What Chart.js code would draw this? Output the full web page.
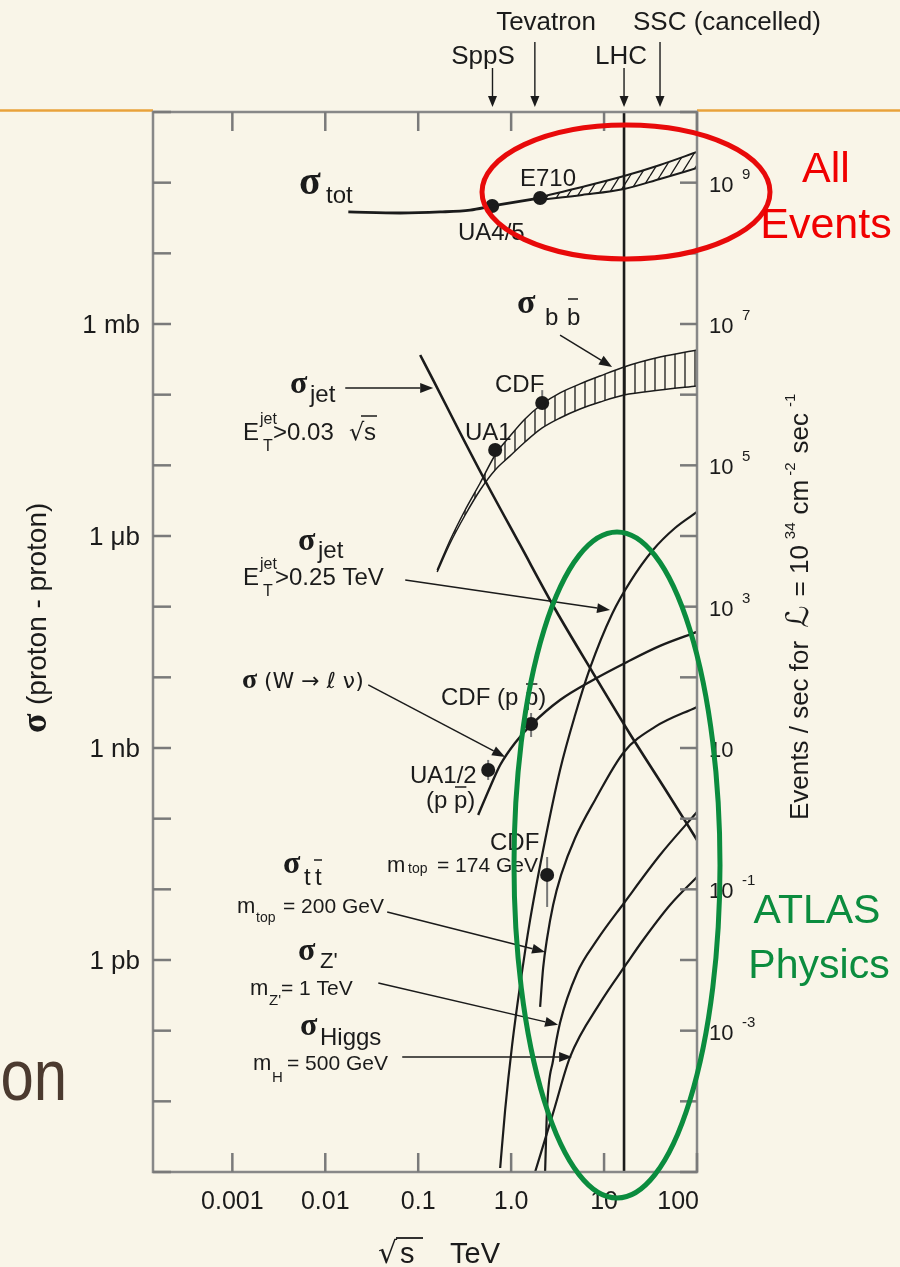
<!DOCTYPE html>
<html>
<head>
<meta charset="utf-8">
<script src="https://cdn.jsdelivr.net/npm/chart.js@4.4.1/dist/chart.umd.min.js"></script>
<style>
  html, body { margin: 0; padding: 0; background: #f9f5e8; }
  #wrap { width: 900px; height: 1267px; position: relative; }
</style>
</head>
<body>
<div id="wrap"><canvas id="c"></canvas></div>
<script>
// ---------------- data: sqrt(s) in TeV, cross sections in nb ----------------
const sqrtS_tot      = [0.0177, 0.064, 0.1725, 0.362, 0.625, 1.10, 2.05];
const sigma_tot      = [3.85e7, 3.72e7, 3.85e7, 4.10e7, 4.68e7, 5.32e7, 6.07e7];
const sqrtS_totBand  = [2.05, 5.80, 16.4, 40.0, 100];
const sigma_totHigh  = [6.27e7, 8.69e7, 1.24e8, 1.78e8, 2.72e8];
const sigma_totLow   = [5.69e7, 6.70e7, 8.13e7, 1.13e8, 1.61e8];

const sqrtS_bb       = [0.160, 0.221, 0.320, 0.464, 0.673, 0.975, 1.41, 2.16, 3.36, 5.52, 9.06, 16.4, 40.0, 100];
const sigma_bbHigh   = [330, 879, 2335, 5623, 1.40e4, 2.60e4, 4.53e4, 7.38e4, 1.06e5, 1.42e5, 1.84e5, 2.47e5, 3.41e5, 4.29e5];
const sigma_bbLow    = [310, 796, 1982, 4477, 8590, 1.36e4, 2.14e4, 3.38e4, 4.68e4, 6.27e4, 7.87e4, 9.89e4, 1.16e5, 1.33e5];

const sqrtS_jet03    = [0.105, 0.145, 0.269, 0.500, 1.25, 2.97, 7.62, 19.0, 45.3, 100];
const sigma_jet03    = [3.64e5, 1.61e5, 3.27e4, 6839, 746, 92.7, 11.5, 1.58, 0.263, 0.050];

const sqrtS_jet25    = [0.762, 0.862, 1.025, 1.25, 1.60, 2.21, 3.36, 4.88, 7.07, 12.2, 19.0, 33.6, 58.0, 100];
const sigma_jet25    = [1.14e-6, 7.55e-6, 6.28e-5, 4.44e-4, 3.69e-3, 0.0361, 0.489, 2.93, 13.6, 78.9, 223, 634, 1297, 2188];

const sqrtS_W        = [0.442, 0.594, 0.762, 1.10, 1.64, 3.36, 7.62, 17.7, 40.0, 100];
const sigma_W        = [0.113, 0.281, 0.575, 1.18, 2.12, 4.78, 9.18, 16.5, 27.8, 43.9];

const sqrtS_tt       = [2.05, 2.21, 2.44, 2.83, 3.45, 4.88, 8.00, 16.4, 35.3, 100];
const sigma_tt       = [2.17e-4, 7.71e-4, 2.05e-3, 6.01e-3, 0.0160, 0.0533, 0.184, 0.879, 1.99, 3.81];

const sqrtS_Zp       = [2.32, 2.44, 2.83, 3.36, 5.12, 8.41, 16.4, 40.0, 100];
const sigma_Zp       = [1.0e-6, 8.32e-6, 3.85e-5, 1.29e-4, 6.56e-4, 1.92e-3, 6.41e-3, 0.0306, 0.124];

const sqrtS_H        = [1.81, 2.83, 4.31, 9.06, 17.7, 26.3, 51.3, 100];
const sigma_H        = [1.0e-6, 6.85e-6, 4.25e-5, 2.47e-4, 9.08e-4, 1.92e-3, 6.01e-3, 0.0150];

// measurements: UA4/5, E710, UA1, CDF (bb), CDF (W), UA1/2 (W), CDF (tt)
const measSqrtS      = [0.625, 2.05, 0.673, 2.16, 1.64, 0.566, 2.44];
const measSigma      = [4.68e7, 6.07e7, 1.65e4, 7.63e4, 2.19, 0.489, 0.0160];
const measErrLo      = [null, null, null, 6.8e4, 1.43, 0.353, 5.63e-3];
const measErrHi      = [null, null, null, 1.16e5, 3.13, 0.678, 0.0287];

// colliders marked along the top
const machineNames    = ['SppS', 'Tevatron', 'LHC', 'SSC (cancelled)'];
const machineEnergies = [0.63, 1.8, 16.4, 40];
const lhcEnergy       = 16.4;

// axis ticks and labels
const xTickValues  = [0.001, 0.01, 0.1, 1, 10, 100];
const xTickLabels  = ['0.001', '0.01', '0.1', '1.0', '10', '100'];
const yLabelValues = [1e6, 1e3, 1, 1e-3];
const yLabelTexts  = ['1 mb', '1 \u03bcb', '1 nb', '1 pb'];
const rateValues   = [1e9, 1e7, 1e5, 1e3, 10, 0.1, 1e-3];
const rateExps     = ['9', '7', '5', '3', '', '-1', '-3'];

// label pointers: [from sqrt(s), from sigma, to sqrt(s), to sigma]
const pointerBB    = [3.36, 6.98e5, 12.2, 2.47e5];
const pointerJet03 = [0.0164, 1.24e5, 0.145, 1.24e5];
const pointerJet25 = [0.0725, 239, 11.6, 89.8];
const pointerW     = [0.0290, 7.80, 0.862, 0.746];
const pointerTT    = [0.0464, 4.79e-3, 2.32, 1.30e-3];
const pointerZp    = [0.0372, 4.73e-4, 3.20, 1.21e-4];
const pointerH     = [0.0673, 4.25e-5, 4.53, 4.25e-5];

// ---------------- drawing helpers ----------------
const SANS  = '"Liberation Sans", Arial, Helvetica, sans-serif';
const SERIF = '"Liberation Serif", "Times New Roman", serif';
const INK   = '#1b1b1b';
const BG    = '#f9f5e8';

const pts = (xs, ys) => xs.map((x, i) => ({ x, y: ys[i] }));

const mainCtx = document.getElementById('c').getContext('2d');
function makeHatch(w, h, drawFn) {
  const c = document.createElement('canvas');
  c.width = w; c.height = h;
  const g = c.getContext('2d');
  g.strokeStyle = '#1a1a1a';
  g.lineWidth = 1.3;
  drawFn(g, w, h);
  return mainCtx.createPattern(c, 'repeat');
}
const diagHatch = makeHatch(10, 16, (g, w, h) => {
  g.beginPath();
  for (const o of [-w, 0, w]) { g.moveTo(o, h); g.lineTo(o + w, 0); }
  g.stroke();
});
const vertHatch = makeHatch(10, 10, (g, w, h) => {
  g.beginPath(); g.moveTo(w / 2, 0); g.lineTo(w / 2, h); g.stroke();
});

function txt(ctx, s, x, y, font, align) {
  ctx.font = font;
  ctx.textAlign = align || 'left';
  ctx.fillText(s, x, y);
}
function bar(ctx, x1, x2, y) {
  ctx.beginPath(); ctx.moveTo(x1, y); ctx.lineTo(x2, y); ctx.stroke();
}
function arrow(ctx, x1, y1, x2, y2, head, half) {
  head = head || 12; half = half || 4.5;
  const a = Math.atan2(y2 - y1, x2 - x1);
  const bx = x2 - head * Math.cos(a), by = y2 - head * Math.sin(a);
  ctx.beginPath(); ctx.moveTo(x1, y1); ctx.lineTo(bx, by); ctx.stroke();
  ctx.beginPath();
  ctx.moveTo(x2, y2);
  ctx.lineTo(bx + half * Math.sin(a), by - half * Math.cos(a));
  ctx.lineTo(bx - half * Math.sin(a), by + half * Math.cos(a));
  ctx.closePath(); ctx.fill();
}

const F24 = '24px ' + SANS;
const SIG = (n) => 'bold ' + n + 'px ' + SERIF;

const decorations = {
  id: 'decorations',
  beforeDraw(chart) {
    const ctx = chart.ctx, a = chart.chartArea;
    ctx.save();
    ctx.fillStyle = BG;
    ctx.fillRect(0, 0, chart.width, chart.height);
    // slide rule line
    ctx.strokeStyle = '#e9a23b';
    ctx.lineWidth = 2.5;
    bar(ctx, 0, a.left, 110.5);
    bar(ctx, a.right, chart.width, 110.5);
    // fragment of slide title (condensed face)
    ctx.save();
    ctx.fillStyle = '#4b3a2f';
    ctx.translate(67, 1100);
    ctx.scale(0.82, 1);
    txt(ctx, 'on', 0, 0, '73px ' + SANS, 'right');
    ctx.restore();
    ctx.restore();
  },
  beforeDatasetsDraw(chart) {
    const ctx = chart.ctx, xs = chart.scales.x, ys = chart.scales.y;
    ctx.save();
    ctx.strokeStyle = '#777';
    ctx.lineWidth = 2;
    measSqrtS.forEach((v, i) => {
      if (measErrLo[i] == null) return;
      const px = xs.getPixelForValue(v);
      ctx.beginPath();
      ctx.moveTo(px, ys.getPixelForValue(measErrLo[i]));
      ctx.lineTo(px, ys.getPixelForValue(measErrHi[i]));
      ctx.stroke();
    });
    ctx.restore();
  },
  afterDatasetsDraw(chart) {
    const ctx = chart.ctx, a = chart.chartArea;
    const xs = chart.scales.x, ys = chart.scales.y, yr = chart.scales.y2;
    ctx.save();

    // frame and inner ticks
    ctx.strokeStyle = '#888';
    ctx.lineWidth = 2.5;
    ctx.strokeRect(a.left, a.top, a.right - a.left, a.bottom - a.top);
    ctx.strokeStyle = '#7a7a7a';
    for (let e = -6; e <= 9; e++) {
      const py = ys.getPixelForValue(Math.pow(10, e));
      bar(ctx, a.left, a.left + 18, py);
      bar(ctx, a.right - 17, a.right, py);
    }
    xTickValues.forEach(v => {
      const px = xs.getPixelForValue(v);
      ctx.beginPath(); ctx.moveTo(px, a.top); ctx.lineTo(px, a.top + 19); ctx.stroke();
      ctx.beginPath(); ctx.moveTo(px, a.bottom); ctx.lineTo(px, a.bottom - 19); ctx.stroke();
    });

    ctx.fillStyle = INK;
    ctx.textBaseline = 'alphabetic';

    // x tick labels
    xTickValues.forEach((v, i) => {
      const px = xs.getPixelForValue(v);
      const last = i === xTickValues.length - 1;
      txt(ctx, xTickLabels[i], last ? px + 2 : px, 1209, '25px ' + SANS, last ? 'right' : 'center');
    });
    // left labels
    yLabelValues.forEach((v, i) => {
      txt(ctx, yLabelTexts[i], 140, ys.getPixelForValue(v) + 9, '26px ' + SANS, 'right');
    });
    // right labels (events per second)
    rateValues.forEach((v, i) => {
      const py = yr.getPixelForValue(v);
      txt(ctx, '10', 709, py + 9, '22px ' + SANS);
      if (rateExps[i]) txt(ctx, rateExps[i], 742, py - 4, '15px ' + SANS);
    });

    // x title
    txt(ctx, '\u221a', 378, 1263, '30px "DejaVu Sans", sans-serif');
    txt(ctx, 's', 400, 1263, '29px ' + SANS);
    ctx.strokeStyle = INK; ctx.lineWidth = 1.8;
    bar(ctx, 396, 423, 1238);
    txt(ctx, 'TeV', 450, 1263, '29px ' + SANS);

    // y title (rotated)
    ctx.save();
    ctx.translate(46, 733);
    ctx.rotate(-Math.PI / 2);
    txt(ctx, '\u03c3', 0, 0, SIG(36));
    txt(ctx, '(proton - proton)', 28, 0, '28px ' + SANS);
    ctx.restore();

    // right title (rotated)
    ctx.save();
    ctx.translate(808, 820);
    ctx.rotate(-Math.PI / 2);
    let u = 0;
    const put = (s, font, dv, gap) => {
      u += gap || 0;
      ctx.font = font; ctx.textAlign = 'left';
      ctx.fillText(s, u, dv || 0);
      u += ctx.measureText(s).width;
    };
    put('Events / sec for', '26px ' + SANS);
    put('\u2112', 'italic 31px "DejaVu Serif", "DejaVu Sans", serif', 0, 13);
    put('= 10', '26px ' + SANS, 0, 9);
    put('34', '15px ' + SANS, -13, 6);
    put('cm', '26px ' + SANS, 0, 8);
    put('-2', '15px ' + SANS, -13, 4);
    put('sec', '26px ' + SANS, 0, 9);
    put('-1', '15px ' + SANS, -13, 6);
    ctx.restore();

    // collider markers along the top
    const starts = [68, 42, 68, 42];
    ctx.strokeStyle = INK; ctx.lineWidth = 1.4;
    machineEnergies.forEach((E, i) => {
      const px = xs.getPixelForValue(E);
      arrow(ctx, px, starts[i], px, 107, 11, 4.5);
    });
    txt(ctx, machineNames[0], 483, 64, '26px ' + SANS, 'center');
    txt(ctx, machineNames[1], 546, 30, '26px ' + SANS, 'center');
    txt(ctx, machineNames[2], 621, 64, '26px ' + SANS, 'center');
    txt(ctx, machineNames[3], 633, 30, '26px ' + SANS, 'left');

    // label pointers
    ctx.strokeStyle = INK; ctx.fillStyle = INK; ctx.lineWidth = 1.5;
    [pointerBB, pointerJet03, pointerJet25, pointerW, pointerTT, pointerZp, pointerH].forEach(p => {
      arrow(ctx, xs.getPixelForValue(p[0]), ys.getPixelForValue(p[1]),
                 xs.getPixelForValue(p[2]), ys.getPixelForValue(p[3]), 13, 5);
    });

    // curve labels
    ctx.fillStyle = INK; ctx.strokeStyle = INK; ctx.lineWidth = 1.5;
    txt(ctx, '\u03c3', 299, 194, SIG(40));
    txt(ctx, 'tot', 326, 203, F24);
    txt(ctx, 'E710', 520, 186, F24);
    txt(ctx, 'UA4/5', 458, 240, F24);

    txt(ctx, '\u03c3', 517, 313, SIG(34));
    txt(ctx, 'b', 545, 325, F24);
    txt(ctx, 'b', 567, 325, F24);
    bar(ctx, 568, 578, 299);
    txt(ctx, 'CDF', 495, 392, F24);
    txt(ctx, 'UA1', 465, 440, F24);

    txt(ctx, '\u03c3', 290, 393, SIG(32));
    txt(ctx, 'jet', 310, 402, F24);
    txt(ctx, 'E', 243, 440, F24);
    txt(ctx, 'jet', 260, 424, '16px ' + SANS);
    txt(ctx, 'T', 263, 451, '16px ' + SANS);
    txt(ctx, '>0.03', 273, 440, F24);
    txt(ctx, '\u221a', 349, 440, '24px "DejaVu Sans", sans-serif');
    txt(ctx, 's', 364, 440, F24);
    bar(ctx, 361, 377, 416);

    txt(ctx, '\u03c3', 298, 550, SIG(32));
    txt(ctx, 'jet', 318, 558, F24);
    txt(ctx, 'E', 243, 585, F24);
    txt(ctx, 'jet', 260, 569, '16px ' + SANS);
    txt(ctx, 'T', 263, 596, '16px ' + SANS);
    txt(ctx, '>0.25 TeV', 275, 585, F24);

    txt(ctx, '\u03c3', 242, 688, SIG(28));
    txt(ctx, '(W \u2192 \u2113 \u03bd)', 264, 688, '22px "DejaVu Sans", ' + SANS);

    ctx.font = F24; ctx.textAlign = 'left';
    let px0 = 441 + ctx.measureText('CDF (p ').width, pw = ctx.measureText('p').width;
    txt(ctx, 'CDF (p p)', 441, 705, F24);
    bar(ctx, px0 + 1, px0 + pw - 1, 684);
    txt(ctx, 'UA1/2', 410, 783, F24);
    ctx.font = F24;
    px0 = 426 + ctx.measureText('(p ').width;
    txt(ctx, '(p p)', 426, 808, F24);
    bar(ctx, px0 + 1, px0 + pw - 1, 787);

    txt(ctx, 'CDF', 490, 850, F24);
    txt(ctx, 'm', 387, 872, '22px ' + SANS);
    txt(ctx, 'top', 408, 873, '14px ' + SANS);
    txt(ctx, '= 174 GeV', 437, 872, '21px ' + SANS);

    txt(ctx, '\u03c3', 283, 873, SIG(32));
    txt(ctx, 't', 304, 885, F24);
    txt(ctx, 't', 315, 885, F24);
    bar(ctx, 314, 322, 860);
    txt(ctx, 'm', 237, 913, '22px ' + SANS);
    txt(ctx, 'top', 256, 922, '14px ' + SANS);
    txt(ctx, '= 200 GeV', 283, 913, '21px ' + SANS);

    txt(ctx, '\u03c3', 298, 960, SIG(32));
    txt(ctx, "Z'", 320, 968, '22px ' + SANS);
    txt(ctx, 'm', 250, 995, '22px ' + SANS);
    txt(ctx, "Z'", 269, 1005, '15px ' + SANS);
    txt(ctx, '= 1 TeV', 281, 995, '21px ' + SANS);

    txt(ctx, '\u03c3', 300, 1035, SIG(32));
    txt(ctx, 'Higgs', 320, 1045, F24);
    txt(ctx, 'm', 253, 1070, '22px ' + SANS);
    txt(ctx, 'H', 272, 1082, '15px ' + SANS);
    txt(ctx, '= 500 GeV', 287, 1070, '21px ' + SANS);

    // highlight rings and their captions
    ctx.lineWidth = 5;
    ctx.strokeStyle = '#e80a0a';
    ctx.beginPath(); ctx.ellipse(626, 192, 144, 67, 0, 0, Math.PI * 2); ctx.stroke();
    ctx.strokeStyle = '#0b8c3e';
    ctx.beginPath(); ctx.ellipse(617, 865, 103, 333, 0, 0, Math.PI * 2); ctx.stroke();

    ctx.fillStyle = '#f00000';
    txt(ctx, 'All', 826, 182, '43px ' + SANS, 'center');
    txt(ctx, 'Events', 826, 238, '43px ' + SANS, 'center');
    ctx.fillStyle = '#0b8c3e';
    txt(ctx, 'ATLAS', 817, 923, '41px ' + SANS, 'center');
    txt(ctx, 'Physics', 819, 978, '41px ' + SANS, 'center');

    ctx.restore();
  }
};

const curve = (label, xs, ys, w, extra) => Object.assign({
  label, data: pts(xs, ys), borderColor: INK, borderWidth: w,
  pointRadius: 0, pointHoverRadius: 0, fill: false,
  cubicInterpolationMode: 'monotone'
}, extra || {});

new Chart(mainCtx, {
  type: 'line',
  data: {
    datasets: [
      curve('sigma_tot', sqrtS_tot, sigma_tot, 2.8),
      curve('sigma_tot high', sqrtS_totBand, sigma_totHigh, 2, { fill: '+1', backgroundColor: diagHatch }),
      curve('sigma_tot low', sqrtS_totBand, sigma_totLow, 2),
      curve('sigma_bb high', sqrtS_bb, sigma_bbHigh, 1.5, { fill: '+1', backgroundColor: vertHatch }),
      curve('sigma_bb low', sqrtS_bb, sigma_bbLow, 1.5),
      curve('sigma_jet ET>0.03 sqrt(s)', sqrtS_jet03, sigma_jet03, 2.6),
      curve('sigma_jet ET>0.25 TeV', sqrtS_jet25, sigma_jet25, 2.2),
      curve('sigma W->lnu', sqrtS_W, sigma_W, 2.4),
      curve('sigma tt', sqrtS_tt, sigma_tt, 2.2),
      curve("sigma Z'", sqrtS_Zp, sigma_Zp, 2.2),
      curve('sigma Higgs', sqrtS_H, sigma_H, 2.2),
      {
        type: 'scatter', label: 'measurements', data: pts(measSqrtS, measSigma),
        pointRadius: 7, pointHoverRadius: 7, backgroundColor: INK, borderWidth: 0
      },
      curve('LHC', [lhcEnergy, lhcEnergy], [1e-6, 1e9], 2.6)
    ]
  },
  options: {
    responsive: true,
    maintainAspectRatio: false,
    animation: false,
    events: [],
    layout: { padding: { left: 153, top: 112, right: 203, bottom: 95 } },
    plugins: { legend: { display: false }, tooltip: { enabled: false } },
    scales: {
      x:  { type: 'logarithmic', min: 1.4e-4, max: 100, display: false },
      y:  { type: 'logarithmic', min: 1e-6, max: 1e9, display: false },
      y2: { type: 'logarithmic', min: 1e-5, max: 1e10, display: false, position: 'right' }
    }
  },
  plugins: [decorations]
});
</script>
</body>
</html>
